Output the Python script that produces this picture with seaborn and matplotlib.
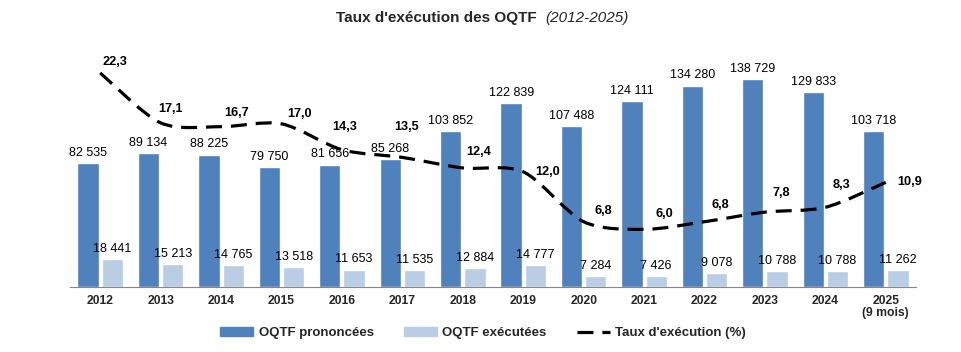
import numpy as np
import pandas as pd
import matplotlib
matplotlib.use("Agg")
import matplotlib.pyplot as plt
import seaborn as sns
from matplotlib.path import Path
from matplotlib.patches import PathPatch, Patch
from matplotlib.lines import Line2D

years = ["2012", "2013", "2014", "2015", "2016", "2017", "2018", "2019",
         "2020", "2021", "2022", "2023", "2024", "2025\n(9 mois)"]
prononcees = [82535, 89134, 88225, 79750, 81656, 85268, 103852, 122839,
              107488, 124111, 134280, 138729, 129833, 103718]
executees = [18441, 15213, 14765, 13518, 11653, 11535, 12884, 14777,
             7284, 7426, 9078, 10788, 10788, 11262]
taux = [22.3, 17.1, 16.7, 17.0, 14.3, 13.5, 12.4, 12.0, 6.8, 6.0, 6.8, 7.8, 8.3, 10.9]

# label offsets (pixels) for the rate labels, as placed in the original
rate_offsets = [(15, 11), (10, 14), (15, 14), (18, 10), (3, 23), (4, 30), (16, 16),
                (24, 0), (20, 11), (20, 15), (16, 17), (16, 19), (16, 22), (24, 0)]

dark = "#4F81BD"
light = "#B9CDE5"

sns.set_style("white")
plt.rcParams['font.family'] = ['Liberation Sans', 'DejaVu Sans']

df = pd.DataFrame({
    "annee": years * 2,
    "valeur": prononcees + executees,
    "serie": ["OQTF prononcées"] * len(years) + ["OQTF exécutées"] * len(years),
})

fig = plt.figure(figsize=(9.62, 3.52), dpi=100)
ax = fig.add_axes([70 / 962, 65 / 352, 846 / 962, 240 / 352])

sns.barplot(data=df, x="annee", y="valeur", hue="serie", order=years,
            hue_order=["OQTF prononcées", "OQTF exécutées"],
            palette=[dark, light], width=0.8, gap=0.12, saturation=1,
            legend=False, ax=ax)

fmt = lambda v: f"{int(v):,}".replace(",", " ")
for cont in ax.containers:
    ax.bar_label(cont, labels=[fmt(b.get_height()) for b in cont],
                 padding=3, fontsize=9, color="black")

ax.set_ylim(0, 160000)
ax.set_xlim(-0.5, len(years) - 0.5)
ax.set_xlabel("")
ax.set_ylabel("")
ax.set_yticks([])
for s in ["top", "left", "right"]:
    ax.spines[s].set_visible(False)
ax.spines["bottom"].set_color("#868686")
ax.set_xticks(range(len(years)))
ax.set_xticklabels(years, fontweight="bold", fontsize=8.7, linespacing=1.0)
ax.tick_params(axis="x", which="major", length=0, pad=6)
ax.set_xticks(np.arange(-0.5, len(years), 1.0), minor=True)
ax.tick_params(axis="x", which="minor", length=4, color="#868686", direction="out")

# secondary axis: execution rate, smoothed line
ax2 = ax.twinx()
ax2.set_ylim(0, 25)
ax2.set_yticks([])
for s in ["top", "left", "right", "bottom"]:
    ax2.spines[s].set_visible(False)

xs = np.arange(len(taux), dtype=float)
ys = np.array(taux, dtype=float)
verts = [(xs[0], ys[0])]
codes = [Path.MOVETO]
n = len(xs)
for i in range(n - 1):
    p0 = np.array([xs[max(i - 1, 0)], ys[max(i - 1, 0)]])
    p1 = np.array([xs[i], ys[i]])
    p2 = np.array([xs[i + 1], ys[i + 1]])
    p3 = np.array([xs[min(i + 2, n - 1)], ys[min(i + 2, n - 1)]])
    c1 = p1 + (p2 - p0) / 7
    c2 = p2 - (p3 - p1) / 7
    verts += [tuple(c1), tuple(c2), tuple(p2)]
    codes += [Path.CURVE4] * 3
path = Path(verts, codes)
ax2.add_patch(PathPatch(path, fill=False, edgecolor="black", linewidth=2.3,
                        linestyle=(0, (5, 2.8)), capstyle="butt", zorder=5))

for x, y, (dx, dy) in zip(xs, ys, rate_offsets):
    ax2.annotate(f"{y:.1f}".replace(".", ","), (x, y), xytext=(dx, dy),
                 textcoords="offset pixels", ha="center", va="center",
                 fontsize=9.2, fontweight="bold", color="black")

# title
fig.text(537 / 962, 1 - 18 / 352, "Taux d'exécution des OQTF", ha="right",
         va="center", fontsize=11, fontweight="bold")
fig.text(545 / 962, 1 - 18 / 352, "(2012-2025)", ha="left", va="center",
         fontsize=11, fontstyle="italic")

handles = [Patch(facecolor=dark, edgecolor=dark, label="OQTF prononcées"),
           Patch(facecolor=light, edgecolor=light, label="OQTF exécutées"),
           Line2D([0], [0], color="black", lw=2.3, linestyle=(0, (5, 2.8)),
                  label="Taux d'exécution (%)")]
fig.legend(handles=handles, loc="center", bbox_to_anchor=(483 / 962, 19 / 352),
           ncol=3, frameon=False, prop={"weight": "bold", "size": 9.5},
           handlelength=2.5, handleheight=0.75, handletextpad=0.4,
           columnspacing=2.3)

fig.savefig("out.png", dpi=100)
